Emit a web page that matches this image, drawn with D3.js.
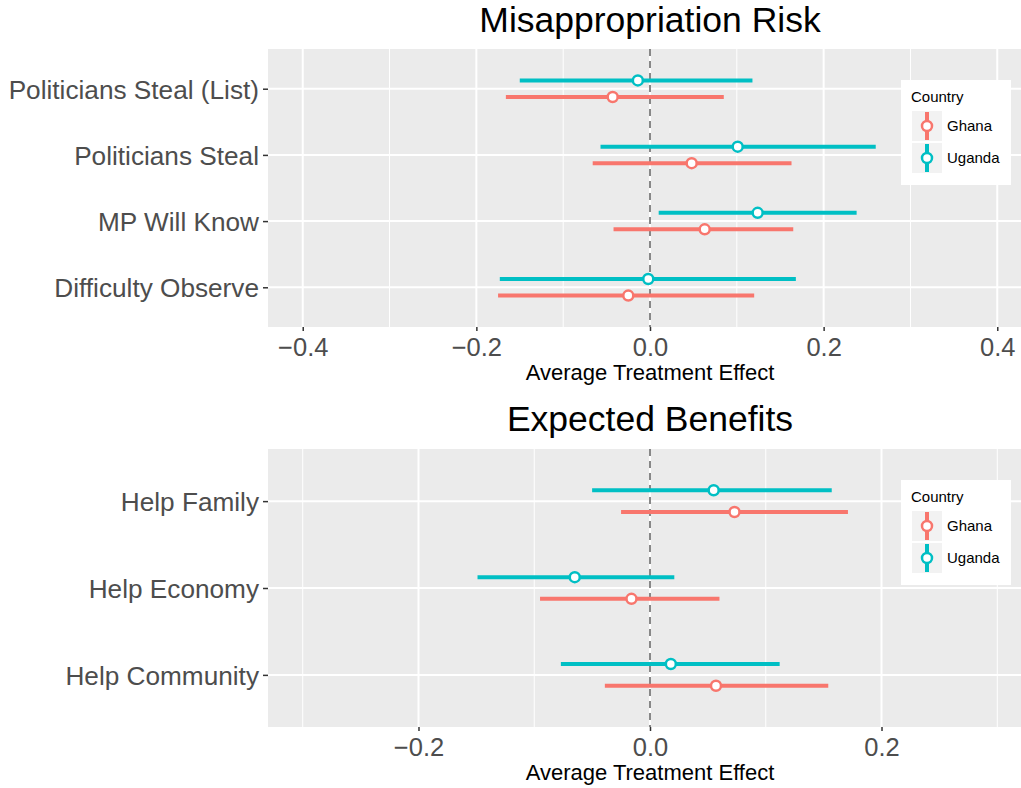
<!DOCTYPE html>
<html>
<head>
<meta charset="utf-8">
<script src="https://cdn.jsdelivr.net/npm/d3@7"></script>
<style>
  body { margin: 0; background: #fff; }
  svg { display: block; }
</style>
</head>
<body>
<svg id="chart" width="1021" height="788"></svg>
<script>
// top panel: misappropriation risk
const riskCategories = ['Politicians Steal (List)', 'Politicians Steal', 'MP Will Know', 'Difficulty Observe']
const riskGhanaEst = [-0.043, 0.048, 0.063, -0.025]
const riskGhanaLow = [-0.166, -0.066, -0.042, -0.175]
const riskGhanaHigh = [0.085, 0.163, 0.165, 0.120]
const riskUgandaEst = [-0.014, 0.101, 0.124, -0.002]
const riskUgandaLow = [-0.150, -0.057, 0.010, -0.173]
const riskUgandaHigh = [0.118, 0.260, 0.238, 0.168]
const riskTicks = [-0.4, -0.2, 0, 0.2, 0.4]
const riskMinor = [-0.3, -0.1, 0.1, 0.3]

// bottom panel: expected benefits
const benefitCategories = ['Help Family', 'Help Economy', 'Help Community']
const benefitGhanaEst = [0.073, -0.016, 0.057]
const benefitGhanaLow = [-0.025, -0.095, -0.039]
const benefitGhanaHigh = [0.171, 0.060, 0.154]
const benefitUgandaEst = [0.055, -0.065, 0.018]
const benefitUgandaLow = [-0.050, -0.149, -0.077]
const benefitUgandaHigh = [0.157, 0.021, 0.112]
const benefitTicks = [-0.2, 0, 0.2]
const benefitMinor = [-0.3, -0.1, 0.1, 0.3]

const countries = ['Ghana', 'Uganda']
const countryColors = { Ghana: '#F8766D', Uganda: '#00BFC4' }

const svg = d3.select('#chart')
const sans = '"Liberation Sans", Arial, sans-serif'

function buildRows(categories, ghana, uganda) {
  const rows = []
  categories.forEach((c, i) => {
    rows.push({ cat: c, country: 'Ghana', est: ghana[0][i], low: ghana[1][i], high: ghana[2][i] })
    rows.push({ cat: c, country: 'Uganda', est: uganda[0][i], low: uganda[1][i], high: uganda[2][i] })
  })
  return rows
}

function drawPanel(opts) {
  const left = 268
  const right = 1032
  const g = svg.append('g')

  const x = d3.scaleLinear().domain(opts.limits).range([left, right])
  const y = d3.scalePoint()
    .domain(opts.categories)
    .range([opts.top, opts.bottom])
    .padding(0.6)
  const dodge = y.step() * 0.125

  g.append('rect')
    .attr('x', left).attr('y', opts.top)
    .attr('width', right - left).attr('height', opts.bottom - opts.top)
    .attr('fill', '#EBEBEB')

  g.selectAll('.minor')
    .data(opts.minor)
    .enter().append('line')
    .attr('x1', (d) => x(d)).attr('x2', (d) => x(d))
    .attr('y1', opts.top).attr('y2', opts.bottom)
    .attr('stroke', '#fff').attr('stroke-width', 1)

  g.selectAll('.major')
    .data(opts.ticks)
    .enter().append('line')
    .attr('x1', (d) => x(d)).attr('x2', (d) => x(d))
    .attr('y1', opts.top).attr('y2', opts.bottom)
    .attr('stroke', '#fff').attr('stroke-width', 2)

  g.selectAll('.hgrid')
    .data(opts.categories)
    .enter().append('line')
    .attr('x1', left).attr('x2', right)
    .attr('y1', (d) => y(d)).attr('y2', (d) => y(d))
    .attr('stroke', '#fff').attr('stroke-width', 2)

  // zero reference line
  g.append('line')
    .attr('x1', x(0)).attr('x2', x(0))
    .attr('y1', opts.top).attr('y2', opts.bottom)
    .attr('stroke', '#6b6b6b').attr('stroke-width', 1.6)
    .attr('stroke-dasharray', '7,5')

  const rowY = (d) => y(d.cat) + (d.country === 'Uganda' ? -dodge : dodge)

  g.selectAll('.ci')
    .data(opts.rows)
    .enter().append('line')
    .attr('x1', (d) => x(d.low)).attr('x2', (d) => x(d.high))
    .attr('y1', rowY).attr('y2', rowY)
    .attr('stroke', (d) => countryColors[d.country])
    .attr('stroke-width', 4)

  g.selectAll('.pt')
    .data(opts.rows)
    .enter().append('circle')
    .attr('cx', (d) => x(d.est)).attr('cy', rowY)
    .attr('r', 5)
    .attr('fill', '#fff')
    .attr('stroke', (d) => countryColors[d.country])
    .attr('stroke-width', 2.5)

  // x axis
  const xAxis = g.append('g')
    .attr('transform', `translate(0,${opts.bottom})`)
    .call(d3.axisBottom(x).tickValues(opts.ticks).tickFormat(d3.format('.1f')).tickSizeOuter(0).tickSize(4).tickPadding(4))
  xAxis.select('.domain').remove()
  xAxis.selectAll('line').attr('stroke', '#333').attr('stroke-width', 1.5)
  xAxis.selectAll('text')
    .attr('dy', null)
    .attr('y', 29)
    .attr('fill', '#4D4D4D')
    .style('font-family', sans)
    .style('font-size', '25.5px')

  // y axis
  const yAxis = g.append('g')
    .attr('transform', `translate(${left},0)`)
    .call(d3.axisLeft(y).tickSize(5).tickPadding(4).tickSizeOuter(0))
  yAxis.select('.domain').remove()
  yAxis.selectAll('line').attr('stroke', '#333').attr('stroke-width', 1.5)
  yAxis.selectAll('text')
    .attr('dy', '0.36em')
    .attr('fill', '#4D4D4D')
    .style('font-family', sans)
    .style('font-size', '26.2px')

  g.append('text')
    .attr('x', x(0)).attr('y', opts.titleY)
    .attr('text-anchor', 'middle')
    .style('font-family', sans)
    .style('font-size', '35.5px')
    .text(opts.title)

  g.append('text')
    .attr('x', x(0)).attr('y', opts.bottom + 53)
    .attr('text-anchor', 'middle')
    .style('font-family', sans)
    .style('font-size', '22px')
    .text('Average Treatment Effect')

  // legend
  const lg = g.append('g').attr('transform', `translate(901,${opts.top + 31})`)
  lg.append('rect').attr('width', 110).attr('height', 105).attr('fill', '#fff')
  lg.append('text')
    .attr('x', 10).attr('y', 22)
    .style('font-family', sans)
    .style('font-size', '15px')
    .text('Country')
  const key = lg.selectAll('.key')
    .data(countries)
    .enter().append('g')
    .attr('transform', (d, i) => `translate(11,${31 + i * 32})`)
  key.append('rect').attr('width', 30).attr('height', 30).attr('fill', '#F2F2F2')
  key.append('line')
    .attr('x1', 15).attr('x2', 15).attr('y1', 1).attr('y2', 29)
    .attr('stroke', (d) => countryColors[d]).attr('stroke-width', 4)
  key.append('circle')
    .attr('cx', 15).attr('cy', 15).attr('r', 5)
    .attr('fill', '#fff')
    .attr('stroke', (d) => countryColors[d]).attr('stroke-width', 2.5)
  key.append('text')
    .attr('x', 35).attr('y', 15).attr('dy', '0.36em')
    .style('font-family', sans)
    .style('font-size', '15px')
    .text((d) => d)
}

drawPanel({
  title: 'Misappropriation Risk',
  categories: riskCategories,
  rows: buildRows(riskCategories,
    [riskGhanaEst, riskGhanaLow, riskGhanaHigh],
    [riskUgandaEst, riskUgandaLow, riskUgandaHigh]),
  limits: [-0.44, 0.44],
  ticks: riskTicks,
  minor: riskMinor,
  top: 49,
  bottom: 327,
  titleY: 32
})

drawPanel({
  title: 'Expected Benefits',
  categories: benefitCategories,
  rows: buildRows(benefitCategories,
    [benefitGhanaEst, benefitGhanaLow, benefitGhanaHigh],
    [benefitUgandaEst, benefitUgandaLow, benefitUgandaHigh]),
  limits: [-0.33, 0.33],
  ticks: benefitTicks,
  minor: benefitMinor,
  top: 449,
  bottom: 727,
  titleY: 431
})
</script>
</body>
</html>
